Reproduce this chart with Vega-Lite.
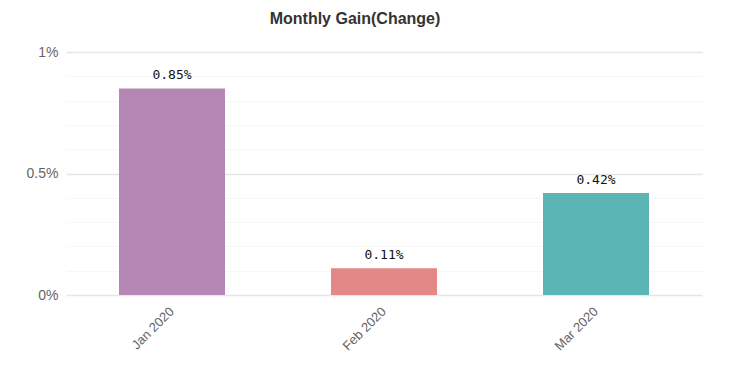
{
  "$schema": "https://vega.github.io/schema/vega-lite/v6.json",
  "width": 636,
  "height": 243,
  "autosize": {"type": "none"},
  "padding": {"left": 66, "top": 52, "right": 40, "bottom": 88},
  "background": "white",
  "title": {
    "text": "Monthly Gain(Change)",
    "font": "Liberation Sans",
    "fontSize": 16,
    "fontWeight": "bold",
    "color": "#333333",
    "anchor": "middle",
    "offset": 18,
    "dx": -29
  },
  "data": {
    "values": [
      {"month": "Jan 2020", "gain": 0.85, "label": "0.85%"},
      {"month": "Feb 2020", "gain": 0.11, "label": "0.11%"},
      {"month": "Mar 2020", "gain": 0.42, "label": "0.42%"}
    ]
  },
  "config": {
    "view": {"stroke": null}
  },
  "encoding": {
    "x": {
      "field": "month",
      "type": "nominal",
      "sort": null,
      "scale": {"paddingInner": 0.5, "paddingOuter": 0.25},
      "axis": {
        "title": null,
        "labelAngle": -45,
        "labelAlign": "right",
        "labelBaseline": "middle",
        "labelFont": "Liberation Sans",
        "labelFontSize": 13,
        "labelColor": "#666666",
        "labelPadding": 14,
        "ticks": false,
        "domain": false,
        "grid": false
      }
    },
    "y": {
      "field": "gain",
      "type": "quantitative",
      "scale": {"domain": [0, 1], "nice": false},
      "axis": {
        "title": null,
        "values": [0, 0.1, 0.2, 0.3, 0.4, 0.5, 0.6, 0.7, 0.8, 0.9, 1],
        "labelExpr": "abs(datum.value*2 - round(datum.value*2)) < 0.001 ? datum.value + '%' : ''",
        "labelFont": "Liberation Sans",
        "labelFontSize": 14,
        "labelColor": "#666666",
        "labelPadding": 8,
        "ticks": false,
        "domain": false,
        "grid": true,
        "gridColor": {"condition": {"test": "abs(datum.value*2 - round(datum.value*2)) < 0.001", "value": "#e6e6e6"}, "value": "#f6f6f6"},
        "gridWidth": {"condition": {"test": "abs(datum.value*2 - round(datum.value*2)) < 0.001", "value": 1.5}, "value": 1}
      }
    }
  },
  "layer": [
    {
      "mark": {"type": "bar"},
      "encoding": {
        "color": {
          "field": "month",
          "type": "nominal",
          "sort": null,
          "scale": {"domain": ["Jan 2020", "Feb 2020", "Mar 2020"], "range": ["#b587b5", "#e38887", "#5cb5b5"]},
          "legend": null
        }
      }
    },
    {
      "mark": {"type": "text", "baseline": "bottom", "dy": -6, "font": "DejaVu Sans Mono", "fontSize": 13, "color": "#111111"},
      "encoding": {"text": {"field": "label"}}
    }
  ]
}
